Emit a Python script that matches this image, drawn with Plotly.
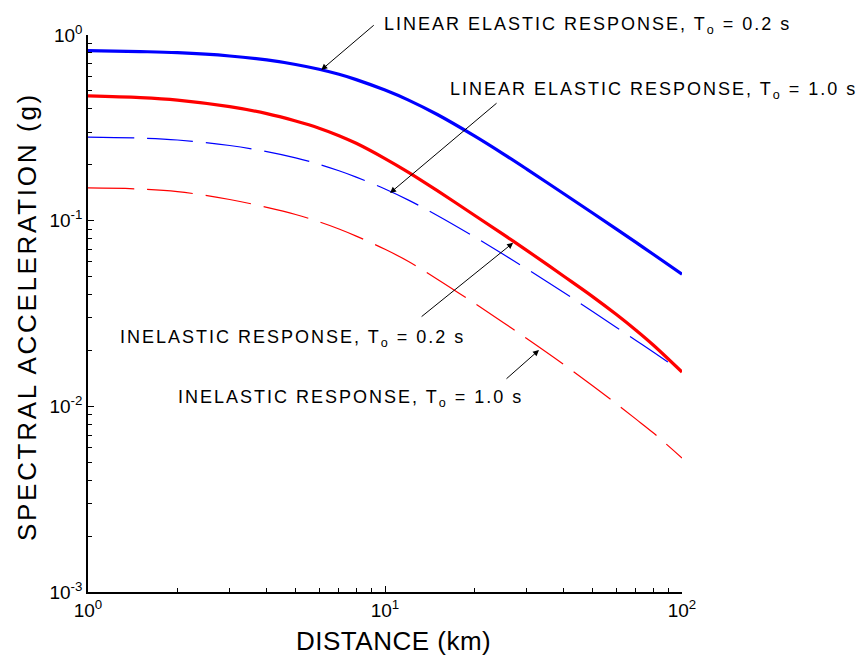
import math
import plotly.graph_objects as go

# ---------------- data ----------------
distance_km = [1, 1.5, 2, 3, 4, 5, 6, 7, 8, 10, 12, 15, 20, 25, 30, 40, 50, 60, 70, 80, 100]

linear_T02 = [0.824, 0.814, 0.803, 0.771, 0.734, 0.694, 0.654, 0.614, 0.575, 0.505, 0.446, 0.373,
              0.286, 0.229, 0.1895, 0.1397, 0.110, 0.0903, 0.0764, 0.0659, 0.0515]
linear_T10 = [0.47, 0.460, 0.446, 0.411, 0.377, 0.344, 0.315, 0.287, 0.261, 0.216, 0.182, 0.145,
              0.107, 0.0843, 0.0692, 0.0502, 0.039, 0.0313, 0.0257, 0.0214, 0.0153]
inelastic_T02 = [0.282, 0.2785, 0.272, 0.254, 0.2356, 0.218, 0.2011, 0.1856, 0.1716, 0.1481, 0.129, 0.1067,
                 0.0818, 0.0659, 0.055, 0.041, 0.0324, 0.0267, 0.02265, 0.0196, 0.0154]
inelastic_T10 = [0.150, 0.148, 0.1435, 0.130, 0.118, 0.108, 0.0986, 0.0902, 0.0826, 0.0701, 0.0603, 0.0484,
                 0.0359, 0.0283, 0.0232, 0.0168, 0.0129, 0.01035, 0.00853, 0.0072, 0.00527]

x_tickvals = [1, 10, 100]
x_ticktext = ["10<sup>0</sup>", "10<sup>1</sup>", "10<sup>2</sup>"]
y_tickvals = [0.001, 0.01, 0.1, 1]
y_ticktext = ["10<sup>-3</sup>", "10<sup>-2</sup>", "10<sup>-1</sup>", "10<sup>0</sup>"]
x_minor = [2, 3, 4, 5, 6, 7, 8, 9, 20, 30, 40, 50, 60, 70, 80, 90]
y_minor = [0.002, 0.003, 0.004, 0.005, 0.006, 0.007, 0.008, 0.009,
           0.02, 0.03, 0.04, 0.05, 0.06, 0.07, 0.08, 0.09,
           0.2, 0.3, 0.4, 0.5, 0.6, 0.7, 0.8, 0.9]

FONT = "Arial, Liberation Sans, Helvetica, sans-serif"

def spaced(s, px):
    return f'<span style="letter-spacing:{px}px">{s}</span>'

fig = go.Figure()
fig.add_trace(go.Scatter(x=distance_km, y=inelastic_T10, mode="lines",
                         line=dict(color="#FF0000", width=1.2, dash="46px,13px", shape="spline", smoothing=1.0)))
fig.add_trace(go.Scatter(x=distance_km, y=inelastic_T02, mode="lines",
                         line=dict(color="#0000FF", width=1.2, dash="46px,13px", shape="spline", smoothing=1.0)))
fig.add_trace(go.Scatter(x=distance_km, y=linear_T10, mode="lines",
                         line=dict(color="#FF0000", width=3.2, shape="spline", smoothing=1.0)))
fig.add_trace(go.Scatter(x=distance_km, y=linear_T02, mode="lines",
                         line=dict(color="#0000FF", width=3.2, shape="spline", smoothing=1.0)))

def axis_common(minor_vals):
    return dict(
        type="log", showgrid=False, zeroline=False, showline=True, linecolor="black", linewidth=1.5,
        ticks="inside", ticklen=6, tickwidth=1, tickcolor="black", tickmode="array",
        tickfont=dict(family=FONT, size=19, color="black"),
        minor=dict(tickmode="array", tickvals=minor_vals, ticks="inside", ticklen=4,
                   tickwidth=1, tickcolor="black", showgrid=False),
        mirror=False,
    )

fig.update_layout(
    width=861, height=661,
    margin=dict(l=88, r=179, t=35, b=69),
    paper_bgcolor="white", plot_bgcolor="white",
    showlegend=False,
    font=dict(family=FONT, color="black"),
    xaxis=dict(range=[0, 2], tickvals=x_tickvals, ticktext=x_ticktext, **axis_common(x_minor)),
    yaxis=dict(range=[-3, 0], tickvals=y_tickvals, ticktext=y_ticktext, **axis_common(y_minor)),
)

W, H = 594.0, 557.0
def px_x(px):
    return (px - 88) / W
def px_y(py):
    return (592 - py) / H

labels = [
    ("LINEAR ELASTIC RESPONSE, T<sub>o</sub> = 0.2 s", 382, 26),
    ("LINEAR ELASTIC RESPONSE, T<sub>o</sub> = 1.0 s", 448, 90),
    ("INELASTIC RESPONSE, T<sub>o</sub> = 0.2 s", 118, 338),
    ("INELASTIC RESPONSE, T<sub>o</sub> = 1.0 s", 176, 398),
]
for txt, lx, ly in labels:
    fig.add_annotation(xref="paper", yref="paper", x=px_x(lx), y=px_y(ly),
                       xanchor="left", yanchor="middle", showarrow=False,
                       text=spaced(txt, 2.0), font=dict(family=FONT, size=18, color="black"))

# arrows: tip on curve (distance, value), tail offset in pixels
arrows = [
    (6.1, 0.648, 54, -46),
    (10.4, 0.141, 108, -91),
    (27.0, 0.076, -93, 75),
    (33.0, 0.0201, -34, 30),
]
for xd, yd, ax, ay in arrows:
    fig.add_annotation(x=math.log10(xd), y=math.log10(yd), xref="x", yref="y",
                       ax=ax, ay=ay, text="", showarrow=True,
                       arrowhead=2, arrowsize=1.2, arrowwidth=1, arrowcolor="black",
                       standoff=0, startstandoff=0)

# axis titles
fig.add_annotation(xref="paper", yref="paper", x=px_x(393), y=px_y(641), xanchor="center", yanchor="middle",
                   showarrow=False, text=spaced("DISTANCE (km)", 0.5),
                   font=dict(family=FONT, size=26, color="black"))
fig.add_annotation(xref="paper", yref="paper", x=px_x(27), y=px_y(317), xanchor="center", yanchor="middle",
                   showarrow=False, textangle=-90, text=spaced("SPECTRAL ACCELERATION (g)", 2.7),
                   font=dict(family=FONT, size=26, color="black"))

fig.write_html("out.html")
